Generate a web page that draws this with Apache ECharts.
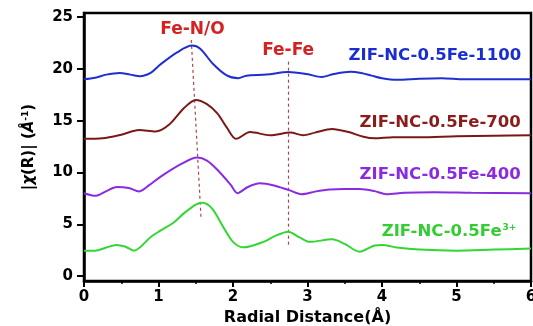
<!DOCTYPE html>
<html>
<head>
<meta charset="utf-8">
<script src="https://cdn.jsdelivr.net/npm/echarts@6/dist/echarts.min.js"></script>
<style>
  html, body { margin: 0; padding: 0; background: #fff; }
  #chart { width: 533px; height: 326px; }
</style>
</head>
<body>
<div id="chart"></div>
<script>
// Fourier-transformed EXAFS magnitude |χ(R)| vs radial distance, four samples (offset vertically)
const yTickValues = [0, 5, 10, 15, 20, 25];

const sampleNames = ['ZIF-NC-0.5Fe-1100', 'ZIF-NC-0.5Fe-700', 'ZIF-NC-0.5Fe-400', 'ZIF-NC-0.5Fe3+'];

const fe1100 = [
  [0, 19.0], [0.15, 19.15], [0.3, 19.45], [0.48, 19.6], [0.62, 19.45], [0.75, 19.3],
  [0.9, 19.65], [1.02, 20.4], [1.25, 21.6], [1.45, 22.25], [1.56, 21.95], [1.73, 20.5],
  [1.91, 19.4], [2.07, 19.1], [2.18, 19.35], [2.45, 19.45], [2.74, 19.7], [2.99, 19.5],
  [3.19, 19.22], [3.35, 19.5], [3.58, 19.72], [3.72, 19.6], [3.86, 19.35], [4.0, 19.1],
  [4.2, 18.95], [4.5, 19.05], [4.8, 19.1], [5.1, 19.0], [5.5, 19.0], [6.0, 19.0]
];

const fe700 = [
  [0, 13.25], [0.25, 13.3], [0.5, 13.65], [0.74, 14.1], [0.96, 13.95], [1.14, 14.6],
  [1.34, 16.2], [1.5, 17.0], [1.65, 16.6], [1.79, 15.7], [1.92, 14.3], [2.04, 13.25],
  [2.23, 13.9], [2.5, 13.6], [2.77, 13.85], [2.94, 13.6], [3.1, 13.85], [3.33, 14.2],
  [3.55, 13.9], [3.75, 13.45], [3.9, 13.3], [4.15, 13.4], [4.5, 13.4], [5.0, 13.5],
  [5.5, 13.55], [6.0, 13.6]
];

const fe400 = [
  [0, 8.0], [0.16, 7.75], [0.3, 8.2], [0.44, 8.6], [0.6, 8.5], [0.74, 8.17],
  [0.88, 8.8], [1.03, 9.6], [1.3, 10.8], [1.52, 11.45], [1.65, 11.15], [1.79, 10.26],
  [1.97, 8.8], [2.06, 8.0], [2.2, 8.6], [2.36, 8.95], [2.55, 8.75], [2.75, 8.3],
  [2.92, 7.9], [3.1, 8.15], [3.3, 8.35], [3.5, 8.4], [3.7, 8.4], [3.9, 8.2],
  [4.06, 7.9], [4.3, 8.05], [4.7, 8.1], [5.2, 8.05], [6.0, 8.0]
];

const fe3 = [
  [0, 2.45], [0.15, 2.45], [0.3, 2.75], [0.43, 3.0], [0.55, 2.85], [0.67, 2.45],
  [0.9, 3.8], [1.03, 4.4], [1.21, 5.2], [1.34, 6.05], [1.5, 6.9], [1.59, 7.07],
  [1.72, 6.5], [1.88, 4.6], [2.0, 3.3], [2.14, 2.77], [2.41, 3.3], [2.56, 3.85],
  [2.74, 4.28], [2.9, 3.7], [3.03, 3.3], [3.33, 3.54], [3.5, 3.1], [3.7, 2.35],
  [3.9, 2.95], [4.0, 3.0], [4.2, 2.75], [4.5, 2.55], [5.0, 2.45], [5.5, 2.55], [6.0, 2.65]
];

const curves = [fe1100, fe700, fe400, fe3];
const colors = ['#1f2fcf', '#7a1818', '#8a2be2', '#33d633'];
const labelColors = ['#1a2ed0', '#8b1c1c', '#8a2be2', '#33cc33'];

const bondNames = ['Fe-N/O', 'Fe-Fe'];
const feNOGuide = [[1.44, 22.8], [1.57, 5.7]];
const feFeGuide = [[2.745, 20.7], [2.745, 2.9]];

const FONT = '"DejaVu Sans", sans-serif';
const chart = echarts.init(document.getElementById('chart'), null, { renderer: 'canvas' });

const lineSeries = curves.map((d, i) => ({
  type: 'line',
  name: sampleNames[i],
  data: d,
  smooth: 0.3,
  symbol: 'none',
  lineStyle: { color: colors[i], width: 2 },
  z: 3
}));

const guideStyle = { color: '#a84848', width: 1.2, type: [3, 3] };
const guideSeries = [feNOGuide, feFeGuide].map(d => ({
  type: 'line', data: d, symbol: 'none', lineStyle: guideStyle, z: 2, silent: true
}));

const sampleLabelPos = [[4.71, 21.24], [4.78, 14.77], [4.78, 9.75], [4.9, 4.25]];
const bondLabelPos = [[1.456, 23.84], [2.74, 21.8]];

const annotations = {
  type: 'scatter',
  symbolSize: 0,
  silent: true,
  z: 5,
  itemStyle: { opacity: 1 },
  data: [
    ...sampleNames.map((n, i) => ({
      value: sampleLabelPos[i],
      label: {
        show: true, position: 'inside',
        formatter: i === 3 ? '{t|ZIF-NC-0.5Fe}{s|3+}' : n,
        color: labelColors[i],
        rich: {
          t: { fontFamily: FONT, fontWeight: 'bold', fontSize: 16.5, color: labelColors[i] },
          s: { fontFamily: FONT, fontWeight: 'bold', fontSize: 9, color: labelColors[i], verticalAlign: 'bottom', padding: [0, 0, 8, 1] }
        }
      }
    })),
    ...bondNames.map((n, i) => ({
      value: bondLabelPos[i],
      label: { show: true, position: 'inside', formatter: n, color: '#d42222', fontSize: 17 }
    }))
  ],
  label: { fontFamily: FONT, fontWeight: 'bold', fontSize: 16.5, opacity: 1 }
};

const axisFont = { fontFamily: FONT, fontWeight: 'bold', fontSize: 15, color: '#000' };

chart.setOption({
  backgroundColor: '#fff',
  animation: false,
  grid: {
    left: 84, right: 2, top: 13, bottom: 45,
    outerBoundsMode: 'none', containLabel: false,
    show: true, borderColor: '#000', borderWidth: 2.5, backgroundColor: 'transparent'
  },
  xAxis: {
    type: 'value', min: 0, max: 6, interval: 1,
    name: 'Radial Distance(Å)', nameLocation: 'middle', nameGap: 22,
    nameTextStyle: { fontFamily: FONT, fontWeight: 'bold', fontSize: 16, color: '#000' },
    axisLine: { show: true, onZero: false, lineStyle: { color: '#000', width: 2.5 } },
    axisTick: { show: true, length: 6, lineStyle: { color: '#000', width: 2 } },
    minorTick: { show: true, splitNumber: 2, length: 3, lineStyle: { color: '#000', width: 1.5 } },
    axisLabel: Object.assign({ margin: 9, hideOverlap: false }, axisFont),
    splitLine: { show: false }
  },
  yAxis: {
    type: 'value', min: -0.48, max: 25.4,
    name: '|{i|χ}(R)| ({i|Å}{sup|-1})', nameLocation: 'middle', nameGap: 46, nameRotate: 90,
    nameTextStyle: {
      fontFamily: FONT, fontWeight: 'bold', fontSize: 15, color: '#000',
      rich: {
        i: { fontFamily: FONT, fontStyle: 'italic', fontWeight: 'bold', fontSize: 15, color: '#000' },
        sup: { fontFamily: FONT, fontWeight: 'bold', fontSize: 9, color: '#000', verticalAlign: 'bottom', padding: [0, 0, 8, 0] }
      }
    },
    axisLine: { show: true, onZero: false, lineStyle: { color: '#000', width: 2.5 } },
    axisTick: { show: true, length: 7, customValues: yTickValues, lineStyle: { color: '#000', width: 2 } },
    axisLabel: Object.assign({ margin: 11, customValues: yTickValues }, axisFont),
    splitLine: { show: false }
  },
  series: [...lineSeries, ...guideSeries, annotations]
});
</script>
</body>
</html>
